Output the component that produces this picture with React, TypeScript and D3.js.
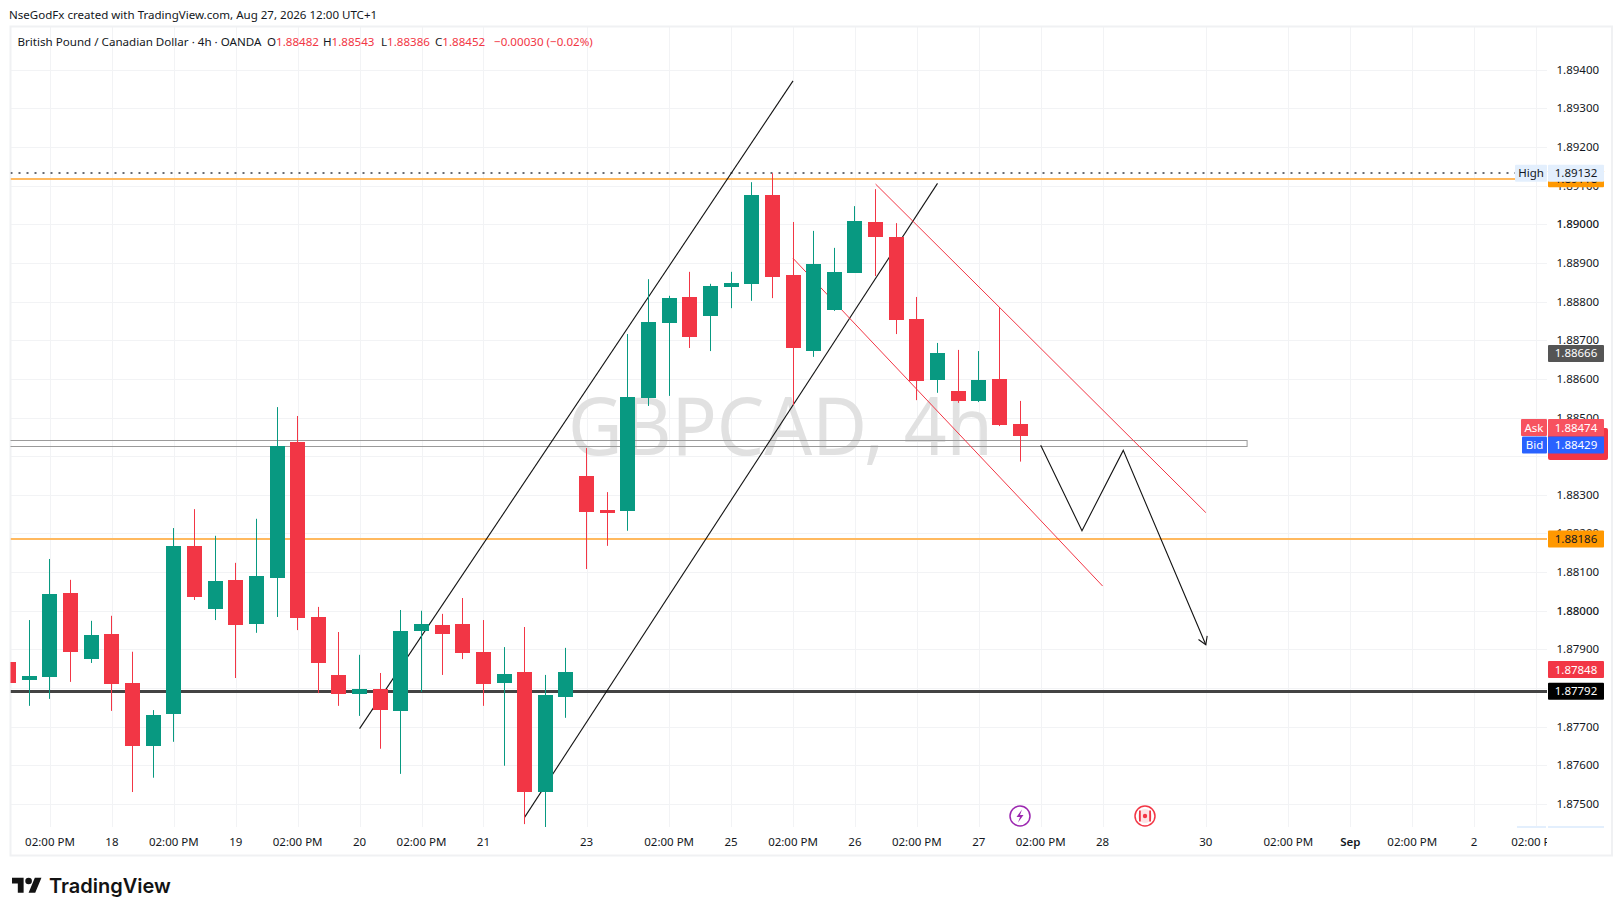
import React from 'react';
import * as d3 from 'd3';

const WIDTH = 1623;
const HEIGHT = 916;
const FONT = '"Noto Sans", sans-serif';

const opens = [
  1.87868, 1.87821, 1.87829, 1.88046, 1.87875, 1.8794, 1.87813, 1.8765, 1.87733, 1.88168,
  1.88005, 1.8808, 1.87966, 1.88085, 1.88437, 1.87984, 1.87834, 1.87785, 1.87798, 1.87741,
  1.87948, 1.87963, 1.87966, 1.87893, 1.87813, 1.87842, 1.87531, 1.87777, 1.88349, 1.88261,
  1.88259, 1.88551, 1.88745, 1.88812, 1.88763, 1.88838, 1.88846, 1.89076, 1.88869, 1.88672,
  1.88778, 1.88874, 1.89006, 1.88967, 1.88755, 1.88597, 1.88569, 1.88543, 1.886, 1.88482,
];
const highs = [
  1.879, 1.87976, 1.88134, 1.8808, 1.87974, 1.87987, 1.87894, 1.87743, 1.88214, 1.88263,
  1.88194, 1.88124, 1.88238, 1.88527, 1.88504, 1.8801, 1.87945, 1.87886, 1.87839, 1.88002,
  1.88, 1.87992, 1.88033, 1.87976, 1.87906, 1.87958, 1.87834, 1.87904, 1.88421, 1.88307,
  1.88716, 1.88858, 1.88815, 1.88877, 1.88846, 1.88877, 1.89109, 1.89132, 1.89006, 1.88983,
  1.88939, 1.89047, 1.89091, 1.89003, 1.88812, 1.88693, 1.88675, 1.88672, 1.88786, 1.88543,
];
const lows = [
  1.8778, 1.87754, 1.87772, 1.87816, 1.87865, 1.87741, 1.87531, 1.87568, 1.87661, 1.88028,
  1.87976, 1.87826, 1.87943, 1.87984, 1.8795, 1.87787, 1.87754, 1.87728, 1.87643, 1.87578,
  1.8779, 1.87834, 1.87875, 1.87754, 1.87599, 1.87448, 1.8744, 1.87723, 1.88108, 1.88168,
  1.88207, 1.8853, 1.88556, 1.8868, 1.88672, 1.88783, 1.88802, 1.88809, 1.88532, 1.88657,
  1.88776, 1.88874, 1.88866, 1.88716, 1.88545, 1.88564, 1.88538, 1.8854, 1.88478, 1.88386,
];
const closes = [
  1.87814, 1.87831, 1.88044, 1.87894, 1.87937, 1.87811, 1.8765, 1.87731, 1.88168, 1.88036,
  1.88077, 1.87963, 1.8809, 1.88426, 1.87981, 1.87865, 1.87785, 1.87798, 1.87743, 1.87948,
  1.87966, 1.8794, 1.87891, 1.87811, 1.87837, 1.87531, 1.87782, 1.87842, 1.88256, 1.88253,
  1.88553, 1.88747, 1.88809, 1.88708, 1.8884, 1.88848, 1.89076, 1.88864, 1.8868, 1.88897,
  1.88877, 1.89009, 1.88967, 1.88752, 1.88595, 1.88667, 1.88543, 1.88597, 1.88481, 1.88452,
];

const priceTicks = d3.range(0, 20).map((i) => 1.875 + i * 0.001);
const boldPrices = ['1.89000', '1.88000'];

const timeBars = [2, 5, 8, 11, 14, 17, 20, 23, 28, 32, 35, 38, 41, 44, 47, 50, 53, 58, 62, 65, 68, 71, 74];
const timeLabels = [
  '02:00 PM', '18', '02:00 PM', '19', '02:00 PM', '20', '02:00 PM', '21', '23', '02:00 PM', '25',
  '02:00 PM', '26', '02:00 PM', '27', '02:00 PM', '28', '30', '02:00 PM', 'Sep', '02:00 PM', '2',
  '02:00 PM',
];

// [bar, price] anchors of the drawings
const channelLeft = [[17, 1.87695], [38, 1.89371]];
const channelRight = [[25, 1.87466], [45, 1.89106]];
const redUpper = [[42, 1.89104], [58, 1.88254]];
const redLower = [[38, 1.88912], [53, 1.88064]];
const forecast = [[50, 1.88428], [52, 1.88207], [54, 1.88415], [58, 1.87912]];
const zoneBars = [-1, 60];
const zonePrices = [1.88441, 1.88426];

const highPrice = 1.89132;
const upperLevel = 1.89118;
const midLevel = 1.88186;
const blackLevel = 1.87792;

const legendValues = [
  { key: 'O', value: '1.88482', x: 267 },
  { key: 'H', value: '1.88543', x: 323 },
  { key: 'L', value: '1.88386', x: 381 },
  { key: 'C', value: '1.88452', x: 435 },
];

const GREEN = '#089981';
const RED = '#F23645';
const INK = '#131722';

const left = 10.5;
const axisX = 1547;
const plotBottom = 827;

const x = d3.scaleLinear().domain([0, 1]).range([8.7, 29.34]);
const y = d3.scaleLinear().domain([1.875, 1.89]).range([804, 224.3]);
const crisp = (v: number) => Math.round(v) + 0.5;

const toPath = d3
  .line<number[]>()
  .x((d) => x(d[0]))
  .y((d) => y(d[1]));

const PriceLabel = ({
  value,
  fill,
  color = '#fff',
  price,
}: {
  value: string;
  fill: string;
  color?: string;
  price: number;
}) => (
  <g>
    <rect x={1548} y={y(price) - 8.5} width={56} height={17} fill={fill} rx={1} />
    <text x={1576} y={y(price)} dy="0.35em" textAnchor="middle" fill={color}>
      {value}
    </text>
  </g>
);

const App = () => {
  const last = forecast[forecast.length - 1];
  const prev = forecast[forecast.length - 2];
  const angle = Math.atan2(y(last[1]) - y(prev[1]), x(last[0]) - x(prev[0]));
  const head = [-0.55, 0.55].map((a) => [
    x(last[0]) - 9 * Math.cos(angle + a),
    y(last[1]) - 9 * Math.sin(angle + a),
  ]);

  return (
    <svg
      width={WIDTH}
      height={HEIGHT}
      viewBox={`0 0 ${WIDTH} ${HEIGHT}`}
      style={{ position: 'absolute', left: 0, top: 0, background: '#fff' }}
      fontFamily={FONT}
      fontSize={11.5}
    >
      <defs>
        <clipPath id="plot">
          <rect x={left} y={26} width={axisX - left} height={plotBottom - 26} />
        </clipPath>
        <clipPath id="times">
          <rect x={left} y={827} width={axisX - left} height={28} />
        </clipPath>
      </defs>

      <text x={9} y={14.5} dy="0.35em" fontSize={11.55} fill={INK}>
        NseGodFx created with TradingView.com, Aug 27, 2026 12:00 UTC+1
      </text>

      {/* grid */}
      <g stroke="#F2F3F5" strokeWidth={1}>
        {priceTicks.map((p) => (
          <line key={p} x1={left} x2={axisX} y1={crisp(y(p))} y2={crisp(y(p))} />
        ))}
        {timeBars.map((b) => (
          <line key={b} x1={crisp(x(b))} x2={crisp(x(b))} y1={26} y2={plotBottom} />
        ))}
      </g>

      <rect x={left} y={26.5} width={1612 - left} height={829} fill="none" stroke="#F0F1F3" strokeWidth={2} />

      <text x={568} y={455} fontSize={80} fill="#E1E1E1" textLength={425} lengthAdjust="spacingAndGlyphs">
        GBPCAD, 4h
      </text>

      {/* drawings, under the candles */}
      <g clipPath="url(#plot)" fill="none">
        <rect
          x={x(zoneBars[0])}
          y={crisp(y(zonePrices[0]))}
          width={x(zoneBars[1]) - x(zoneBars[0])}
          height={Math.round(y(zonePrices[1]) - y(zonePrices[0]))}
          stroke="#9B9B9B"
          strokeWidth={1}
        />
        <line
          x1={left}
          x2={1515}
          y1={Math.round(y(highPrice))}
          y2={Math.round(y(highPrice))}
          stroke="#666A73"
          strokeWidth={2}
          strokeDasharray="2 6"
        />
        <line x1={left} x2={axisX} y1={Math.round(y(upperLevel))} y2={Math.round(y(upperLevel))} stroke="#FFB95F" strokeWidth={2} />
        <line x1={left} x2={axisX} y1={Math.round(y(midLevel))} y2={Math.round(y(midLevel))} stroke="#FFB95F" strokeWidth={2} />
        <line x1={left} x2={axisX} y1={crisp(y(blackLevel))} y2={crisp(y(blackLevel))} stroke="#434343" strokeWidth={3} />
        <path d={toPath(channelLeft) as string} stroke="#131313" strokeWidth={1.1} />
        <path d={toPath(channelRight) as string} stroke="#131313" strokeWidth={1.1} />
        <path d={toPath(redUpper) as string} stroke="#F23645" strokeWidth={1} />
        <path d={toPath(redLower) as string} stroke="#F23645" strokeWidth={1} />
        <path d={toPath(forecast) as string} stroke="#131313" strokeWidth={1.1} />
        <path
          d={`M${head[0][0]},${head[0][1]}L${x(last[0])},${y(last[1])}L${head[1][0]},${head[1][1]}`}
          stroke="#131313"
          strokeWidth={1.1}
        />
      </g>

      {/* candles */}
      <g clipPath="url(#plot)">
        {opens.map((open, i) => {
          const color = closes[i] >= open ? GREEN : RED;
          const bx = Math.round(x(i) - 7.5);
          const top = Math.round(y(Math.max(open, closes[i])));
          const bottom = Math.round(y(Math.min(open, closes[i])));
          return (
            <g key={i} fill={color}>
              <rect x={bx + 7} y={y(highs[i])} width={1} height={y(lows[i]) - y(highs[i])} />
              <rect x={bx} y={top} width={15} height={Math.max(bottom - top, 1)} />
            </g>
          );
        })}
      </g>

      {/* event markers */}
      <g fill="none">
        <circle cx={1020} cy={816} r={10} stroke="#9C27B0" strokeWidth={1.5} fill="#fff" />
        <path d="M1022,809.5L1016.5,817H1020L1018,822.5L1023.5,815H1020Z" fill="#9C27B0" />
        <circle cx={1145} cy={816} r={10} stroke="#F23645" strokeWidth={1.5} fill="#fff" />
        <circle cx={1145} cy={816} r={7} fill="#FDE3E5" />
        <rect x={1139} y={810.5} width={1.8} height={11} fill="#F23645" />
        <rect x={1149.2} y={810.5} width={1.8} height={11} fill="#F23645" />
        <circle cx={1145} cy={816} r={2.2} fill="#F23645" />
      </g>

      {/* price axis */}
      <g fill={INK}>
        {priceTicks.map((p) => {
          const label = p.toFixed(5);
          return (
            <text
              key={label}
              x={1556.5}
              y={y(p)}
              dy="0.35em"
              fontWeight={boldPrices.includes(label) ? 500 : 400}
            >
              {label}
            </text>
          );
        })}
      </g>

      <PriceLabel value="1.88666" fill="#555555" price={1.88666} />
      <PriceLabel value={upperLevel.toFixed(5)} fill="#FF9800" color={INK} price={upperLevel} />
      <rect x={1515} y={y(highPrice) - 8.5} width={32} height={17} fill="#E3EFFD" rx={1} />
      <text x={1531} y={y(highPrice)} dy="0.35em" textAnchor="middle" fill={INK}>
        High
      </text>
      <PriceLabel value={highPrice.toFixed(5)} fill="#E3EFFD" color={INK} price={highPrice} />

      <rect x={1548} y={428} width={60} height={32} fill={RED} rx={2} />
      <rect x={1521} y={419} width={26} height={17} fill="#F7525F" rx={1} />
      <text x={1534} y={427.6} dy="0.35em" textAnchor="middle" fill="#fff">
        Ask
      </text>
      <PriceLabel value="1.88474" fill="#F7525F" price={1.88474} />
      <rect x={1522} y={436.5} width={25} height={17} fill="#2962FF" rx={1} />
      <text x={1534.5} y={445} dy="0.35em" textAnchor="middle" fill="#fff">
        Bid
      </text>
      <PriceLabel value="1.88429" fill="#2962FF" price={1.88429} />

      <PriceLabel value={midLevel.toFixed(5)} fill="#FF9800" color={INK} price={midLevel} />
      <PriceLabel value="1.87848" fill={RED} price={1.87848} />
      <PriceLabel value={blackLevel.toFixed(5)} fill="#000" price={blackLevel} />

      <rect x={1517} y={826} width={29} height={2} fill="#E3EFFD" />
      <rect x={1548} y={826} width={56} height={2} fill="#E3EFFD" />

      {/* time axis */}
      <g clipPath="url(#times)" textAnchor="middle" fill={INK}>
        {timeBars.map((b, i) => (
          <text key={b} x={x(b)} y={841.7} dy="0.35em" fontWeight={timeLabels[i] === 'Sep' ? 600 : 400}>
            {timeLabels[i]}
          </text>
        ))}
      </g>

      {/* legend */}
      <g fontSize={11.6} fill={INK}>
        <text x={17.5} y={41.5} dy="0.35em">
          British Pound / Canadian Dollar · 4h · OANDA
        </text>
        {legendValues.map((d) => (
          <text key={d.key} x={d.x} y={41.5} dy="0.35em">
            {d.key}
            <tspan fill={RED}>{d.value}</tspan>
          </text>
        ))}
        <text x={494} y={41.5} dy="0.35em" fill={RED}>
          −0.00030 (−0.02%)
        </text>
      </g>

      {/* logo */}
      <g fill="#131313">
        <g transform="translate(12,874.4) scale(0.83)">
          <path d="M14 22H7V11H0V4h14v18zM28 22h-8l7.5-18h8L28 22z" />
          <circle cx={20} cy={8} r={4} />
        </g>
        <text x={49} y={892.5} fontFamily="Inter, sans-serif" fontWeight={600} fontSize={20}>
          TradingView
        </text>
      </g>
    </svg>
  );
};

export default App;
